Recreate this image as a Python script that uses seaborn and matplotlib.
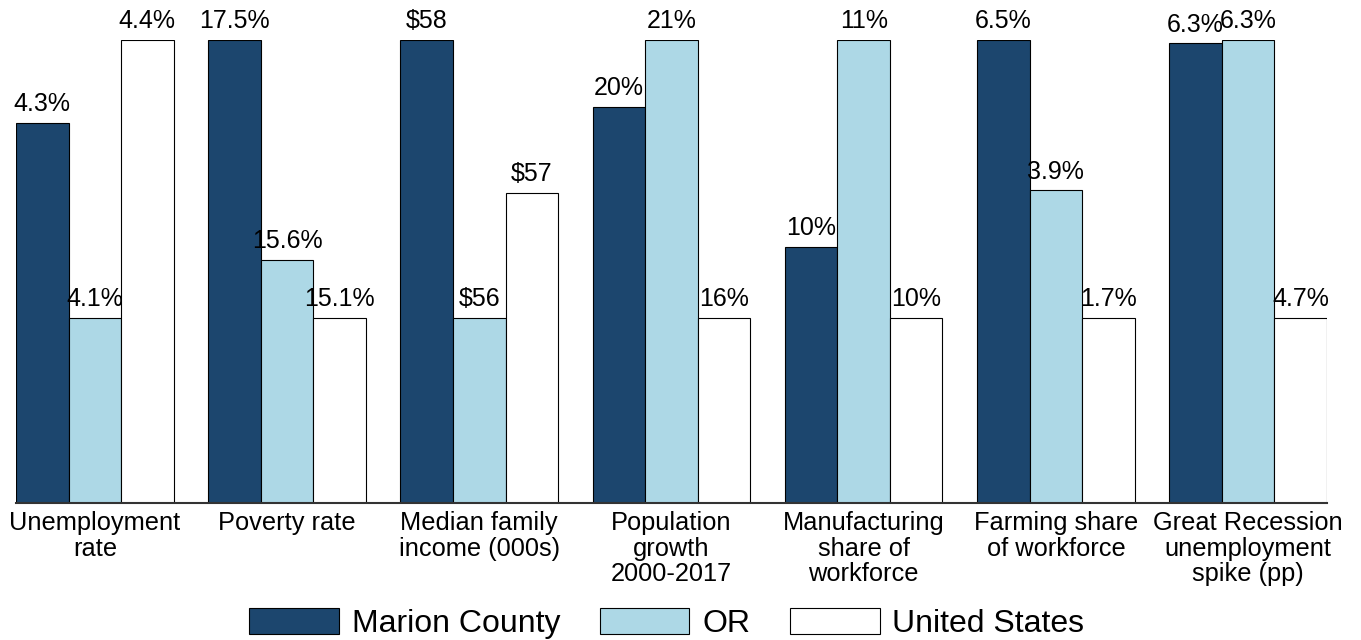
import pandas as pd
import matplotlib.pyplot as plt
import seaborn as sns
import numpy as np

sns.set_style("white")
plt.rcParams['font.family'] = ['Liberation Sans', 'DejaVu Sans']
plt.rcParams['text.color'] = 'black'
plt.rcParams['xtick.color'] = 'black'

# indicators and values
categories = ["Unemployment\nrate", "Poverty rate", "Median family\nincome (000s)",
              "Population\ngrowth\n2000-2017", "Manufacturing\nshare of\nworkforce",
              "Farming share\nof workforce", "Great Recession\nunemployment\nspike (pp)"]
areas = ["Marion County", "OR", "United States"]

marion = [4.31, 17.5, 58.0, 19.8, 10.08, 6.5, 6.28]
oregon = [4.1, 15.6, 56.0, 21.0, 10.9, 3.9, 6.3]
usa = [4.4, 15.1, 56.9, 16.0, 9.8, 1.7, 4.7]

marion_labels = ["4.3%", "17.5%", "\\$58", "20%", "10%", "6.5%", "6.3%"]
oregon_labels = ["4.1%", "15.6%", "\\$56", "21%", "11%", "3.9%", "6.3%"]
usa_labels = ["4.4%", "15.1%", "\\$57", "16%", "10%", "1.7%", "4.7%"]

colors = ["#1c466e", "#add8e6", "#ffffff"]

# each indicator is scaled on its own: lowest area at 0.4, highest at 1.0
vals = np.array([marion, oregon, usa])
lo = vals.min(axis=0)
hi = vals.max(axis=0)
scaled = 0.4 + 0.6 * (vals - lo) / (hi - lo)

rows = []
for i, area in enumerate(areas):
    for j, cat in enumerate(categories):
        rows.append({"category": cat, "area": area, "height": scaled[i, j]})
df = pd.DataFrame(rows)

fig = plt.figure(figsize=(13.61, 6.40), dpi=100)
ax = fig.add_axes([0.01176, 0.214, 0.9632, 0.7235])

sns.barplot(data=df, x="category", y="height", hue="area", order=categories,
            hue_order=areas, palette=colors, width=0.82, gap=0,
            edgecolor="black", linewidth=0.8, saturation=1, ax=ax)

for cont, labs in zip(ax.containers, [marion_labels, oregon_labels, usa_labels]):
    ax.bar_label(cont, labels=labs, padding=5, fontsize=18, color="black", clip_on=False)

ax.set_xlim(-0.41, 6.41)
ax.set_ylim(0, 1)
ax.set_xlabel("")
ax.set_ylabel("")
ax.set_yticks([])
ax.tick_params(axis="x", length=0, pad=6, labelsize=18.3, labelcolor="black")
for lab in ax.get_xticklabels():
    lab.set_linespacing(1.07)
for s in ["left", "top", "right"]:
    ax.spines[s].set_visible(False)
ax.spines["bottom"].set_color("#333333")
ax.spines["bottom"].set_linewidth(1.5)

ax.legend(loc="center", bbox_to_anchor=(0.49, 0.026), bbox_transform=fig.transFigure,
          ncol=3, frameon=False, fontsize=23, handlelength=2.8, handleheight=0.875,
          handletextpad=0.4, columnspacing=1.25, borderaxespad=0)

fig.savefig("out.png", dpi=100)
